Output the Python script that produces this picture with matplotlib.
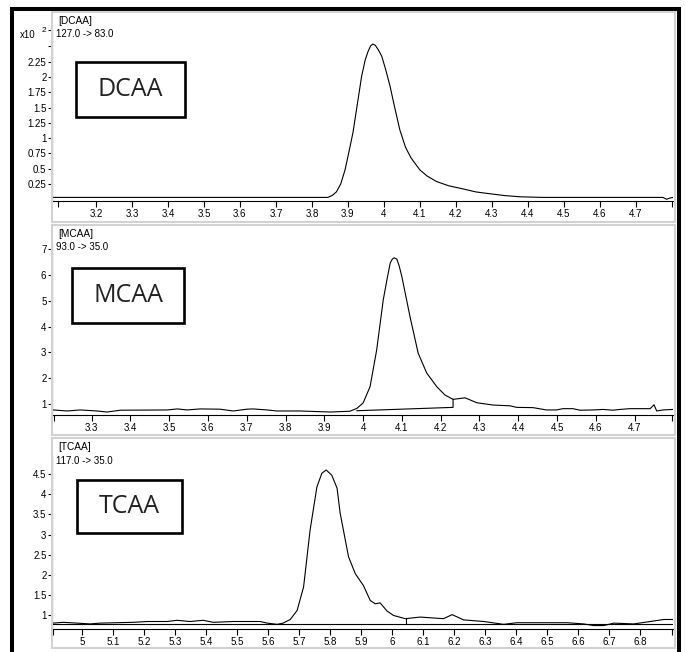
import matplotlib
matplotlib.use("Agg")
import matplotlib.pyplot as plt
from matplotlib.patches import Rectangle

plt.rcParams['font.family'] = ['Liberation Sans', 'DejaVu Sans']

W, H = 685, 652

# DCAA, 127.0 -> 83.0, counts x10^2
dcaa_t = [3.078, 3.500, 3.803, 3.844, 3.856, 3.868, 3.880, 3.892, 3.903, 3.914, 3.926,
          3.938, 3.948, 3.956, 3.963, 3.969, 3.976, 3.985, 3.994, 4.005, 4.017, 4.030,
          4.044, 4.060, 4.075, 4.086, 4.100, 4.120, 4.146, 4.180, 4.219, 4.255, 4.294,
          4.335, 4.378, 4.440, 4.497, 4.700, 4.775, 4.785, 4.795, 4.803]
dcaa_y = [0.03, 0.03, 0.03, 0.03, 0.06, 0.12, 0.25, 0.48, 0.78, 1.09, 1.55,
          2.01, 2.28, 2.42, 2.51, 2.54, 2.52, 2.44, 2.34, 2.12, 1.85, 1.50,
          1.14, 0.85, 0.68, 0.59, 0.48, 0.38, 0.29, 0.22, 0.17, 0.12, 0.09,
          0.06, 0.04, 0.03, 0.03, 0.03, 0.03, 0.00, 0.02, 0.03]

# MCAA, 93.0 -> 35.0
mcaa_t = [3.201, 3.237, 3.271, 3.314, 3.340, 3.374, 3.495, 3.521, 3.546, 3.580, 3.631,
          3.665, 3.701, 3.716, 3.753, 3.778, 3.838, 3.915, 3.966, 3.984, 4.000, 4.018,
          4.035, 4.052, 4.062, 4.070, 4.075, 4.080, 4.087, 4.093, 4.100, 4.121, 4.142,
          4.164, 4.190, 4.211, 4.232, 4.263, 4.293, 4.335, 4.379, 4.396, 4.438, 4.473,
          4.499, 4.515, 4.541, 4.559, 4.593, 4.619, 4.644, 4.662, 4.688, 4.740, 4.750,
          4.757, 4.773, 4.799]
mcaa_y = [0.77, 0.73, 0.77, 0.73, 0.69, 0.76, 0.77, 0.81, 0.77, 0.81, 0.80,
          0.73, 0.80, 0.81, 0.77, 0.73, 0.73, 0.69, 0.72, 0.83, 1.04, 1.67,
          3.09, 5.03, 5.85, 6.46, 6.60, 6.66, 6.61, 6.35, 5.93, 4.38, 2.97,
          2.20, 1.67, 1.35, 1.18, 1.24, 1.05, 0.96, 0.93, 0.87, 0.86, 0.77,
          0.77, 0.82, 0.82, 0.76, 0.77, 0.79, 0.76, 0.79, 0.82, 0.82, 0.97,
          0.73, 0.77, 0.79]
mcaa_base_t = [3.984, 4.232, 4.232]
mcaa_base_y = [0.74, 0.87, 1.18]

# TCAA, 117.0 -> 35.0
tcaa_t = [4.906, 4.939, 4.984, 5.026, 5.058, 5.165, 5.210, 5.274, 5.306, 5.348, 5.390,
          5.423, 5.487, 5.574, 5.597, 5.629, 5.648, 5.671, 5.693, 5.714, 5.735, 5.757,
          5.773, 5.787, 5.805, 5.822, 5.832, 5.859, 5.881, 5.907, 5.929, 5.945, 5.961,
          5.983, 6.004, 6.042, 6.090, 6.165, 6.193, 6.230, 6.295, 6.359, 6.402, 6.564,
          6.617, 6.649, 6.682, 6.714, 6.778, 6.832, 6.875, 6.905]
tcaa_y = [0.81, 0.83, 0.81, 0.79, 0.81, 0.83, 0.85, 0.85, 0.88, 0.85, 0.88,
          0.83, 0.85, 0.85, 0.81, 0.78, 0.81, 0.90, 1.12, 1.70, 3.11, 4.18,
          4.52, 4.60, 4.47, 4.15, 3.53, 2.45, 2.03, 1.74, 1.37, 1.29, 1.31,
          1.11, 1.00, 0.92, 0.96, 0.92, 1.02, 0.89, 0.85, 0.78, 0.82, 0.82,
          0.79, 0.75, 0.75, 0.81, 0.79, 0.85, 0.90, 0.90]
tcaa_base_t = [4.906, 6.905]
tcaa_base_y = [0.79, 0.79]
tcaa_mark_t = [6.045, 6.045]
tcaa_mark_y = [0.79, 0.93]

dcaa_xticks = [3.2, 3.3, 3.4, 3.5, 3.6, 3.7, 3.8, 3.9, 4.0, 4.1, 4.2, 4.3, 4.4, 4.5, 4.6, 4.7]
mcaa_xticks = [3.3, 3.4, 3.5, 3.6, 3.7, 3.8, 3.9, 4.0, 4.1, 4.2, 4.3, 4.4, 4.5, 4.6, 4.7]
tcaa_xticks = [5.0, 5.1, 5.2, 5.3, 5.4, 5.5, 5.6, 5.7, 5.8, 5.9, 6.0, 6.1, 6.2, 6.3, 6.4,
               6.5, 6.6, 6.7, 6.8]
dcaa_yticks = [0.25, 0.5, 0.75, 1, 1.25, 1.5, 1.75, 2, 2.25, 2.5]
mcaa_yticks = [1, 2, 3, 4, 5, 6, 7]
tcaa_yticks = [1, 1.5, 2, 2.5, 3, 3.5, 4, 4.5]


def fmt(v):
    return ('%.2f' % v).rstrip('0').rstrip('.')


def fx(x):
    return x / W


def fy(y):
    return 1 - y / H


fig = plt.figure(figsize=(W / 100, H / 100), dpi=100)

# outer black frame (bottom edge cut off)
fig.add_artist(Rectangle((fx(12), fy(700)), fx(679) - fx(12), fy(8.7) - fy(700),
                         transform=fig.transFigure, fill=False, lw=2.9, ec='black'))

panels = [
    dict(box=(52, 12, 675, 222), ax=(52, 30, 673, 200.7), xlim=(3.078, 4.803),
         ylim=(-0.024, 2.77), t=dcaa_t, y=dcaa_y, xt=dcaa_xticks, yt=dcaa_yticks,
         edge=(3.094, 4.80), name='[DCAA]', mrm='127.0 -> 83.0', label='DCAA',
         lab_box=(76, 62, 185, 117), name_y=21.5, mrm_y=34),
    dict(box=(52, 225, 675, 435), ax=(52, 243, 673, 414.5), xlim=(3.198, 4.799),
         ylim=(0.594, 7.233), t=mcaa_t, y=mcaa_y, xt=mcaa_xticks, yt=mcaa_yticks,
         edge=(3.204, 4.797), name='[MCAA]', mrm='93.0 -> 35.0', label='MCAA',
         lab_box=(72, 268, 184, 323), name_y=234, mrm_y=247.5),
    dict(box=(52, 438, 675, 648), ax=(52, 455, 673, 628.5), xlim=(4.903, 6.905),
         ylim=(0.677, 4.971), t=tcaa_t, y=tcaa_y, xt=tcaa_xticks, yt=tcaa_yticks,
         edge=(4.906, 6.902), name='[TCAA]', mrm='117.0 -> 35.0', label='TCAA',
         lab_box=(77, 480, 182, 533), name_y=447, mrm_y=461.5),
]

for i, p in enumerate(panels):
    bl, bt, br, bb = p['box']
    fig.add_artist(Rectangle((fx(bl), fy(bb)), fx(br) - fx(bl), fy(bt) - fy(bb),
                             transform=fig.transFigure, fill=False, lw=1.5,
                             ec='#d2d2d2'))
    l, t, r, b = p['ax']
    ax = fig.add_axes([fx(l), fy(b), fx(r) - fx(l), fy(t) - fy(b)])
    ax.set_facecolor('none')
    ax.plot(p['t'], p['y'], color='black', lw=0.8)
    if i == 1:
        ax.plot(mcaa_base_t, mcaa_base_y, color='black', lw=0.8)
    if i == 2:
        ax.plot(tcaa_base_t, tcaa_base_y, color='black', lw=0.8)
        ax.plot(tcaa_mark_t, tcaa_mark_y, color='black', lw=0.8)
    ax.set_xlim(*p['xlim'])
    ax.set_ylim(*p['ylim'])
    for s in ('top', 'right'):
        ax.spines[s].set_visible(False)
    for s in ('left', 'bottom'):
        ax.spines[s].set_linewidth(0.8)
    xt = [p['edge'][0]] + p['xt'] + [p['edge'][1]]
    ax.set_xticks(xt)
    ax.set_xticklabels([''] + [fmt(v) for v in p['xt']] + [''])
    yt = list(p['yt'])
    ylab = [fmt(v) for v in yt]
    if i == 0:
        ylab[-1] = ''
        yt.append(p['ylim'][1])
        ylab.append('')
    ax.set_yticks(yt)
    ax.set_yticklabels(ylab)
    ax.tick_params(axis='x', direction='out', length=4.5, width=0.8, pad=1.5,
                   labelsize=7)
    ax.tick_params(axis='y', direction='out', length=3, width=0.8, pad=1,
                   labelsize=7)

    fig.text(fx(58), fy(p['name_y']), p['name'], fontsize=7.3, va='center', ha='left')
    fig.text(fx(56), fy(p['mrm_y']), p['mrm'], fontsize=7, va='center', ha='left')

    ll, lt, lr, lb = p['lab_box']
    fig.add_artist(Rectangle((fx(ll), fy(lb)), fx(lr) - fx(ll), fy(lt) - fy(lb),
                             transform=fig.transFigure, fill=False, lw=1.9,
                             ec='black'))
    fig.text(fx((ll + lr) / 2), fy((lt + lb) / 2), p['label'], fontsize=18,
             family='Open Sans', color='#222222', ha='center', va='center')

fig.text(fx(20), fy(35), 'x10', fontsize=7, ha='left', va='center')
fig.text(fx(41.5), fy(31), '2', fontsize=6, ha='left', va='center')

fig.savefig('out.png', dpi=100)
